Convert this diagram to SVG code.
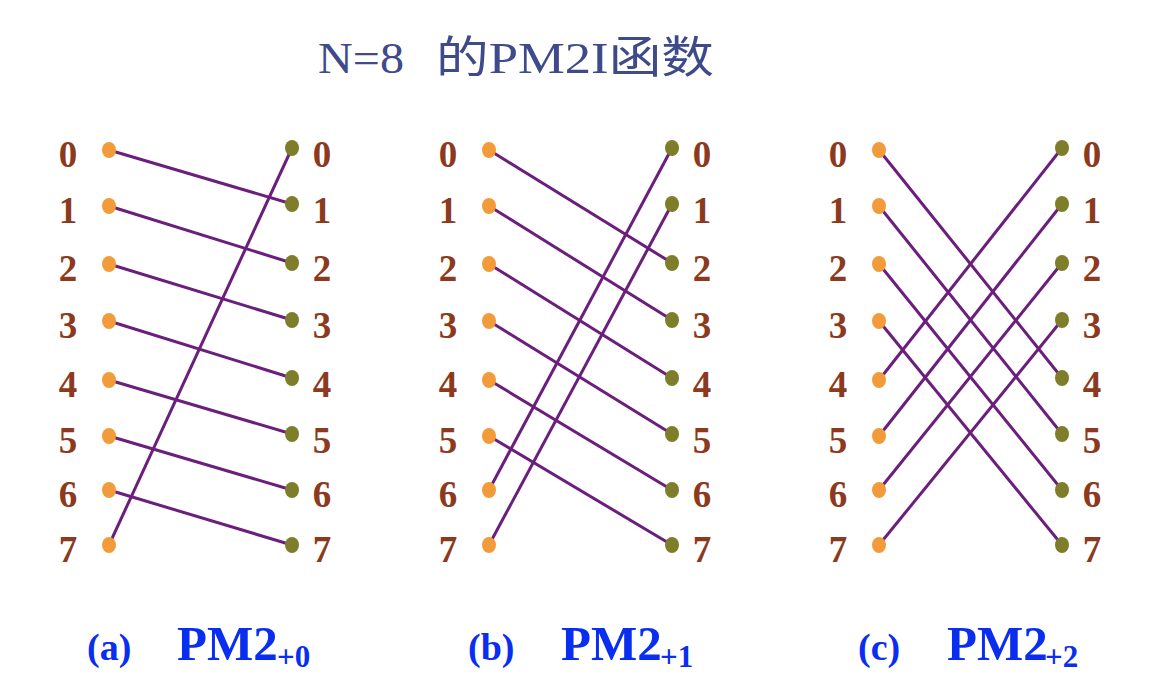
<svg xmlns="http://www.w3.org/2000/svg" width="1168" height="692" viewBox="0 0 1168 692">
<style>
.title{font-family:"Liberation Serif","Noto Sans CJK SC",serif;font-size:44px;fill:#3F4A8A}
.num{font-family:"Liberation Serif",serif;font-weight:bold;font-size:37px;fill:#8B3A1E;text-anchor:middle}
.cap{font-family:"Liberation Serif",serif;font-weight:bold;fill:#0A2EF0}
.c1{font-size:38px}.c2{font-size:49px}.c3{font-size:31px}
.ln{stroke:#6B1E7C;stroke-width:3;fill:none}
.src{fill:#F29B3A}.dst{fill:#7E7E2A}
</style>
<defs>
<ellipse id="dl" rx="7" ry="8" class="src"/>
<ellipse id="dr" rx="7" ry="8" class="dst"/>
</defs>
<g id="title">
<text class="title" x="318" y="73" textLength="86" lengthAdjust="spacingAndGlyphs">N=8</text>
<text class="title" x="436" y="73" textLength="278" lengthAdjust="spacingAndGlyphs">的PM2I函数</text>
</g>
<g id="connectors">
<line class="ln" x1="109" y1="150" x2="292" y2="204"/>
<line class="ln" x1="109" y1="206" x2="292" y2="263"/>
<line class="ln" x1="109" y1="264" x2="292" y2="320"/>
<line class="ln" x1="109" y1="321" x2="292" y2="378"/>
<line class="ln" x1="109" y1="380" x2="292" y2="434"/>
<line class="ln" x1="109" y1="436" x2="292" y2="490"/>
<line class="ln" x1="109" y1="490" x2="292" y2="545"/>
<line class="ln" x1="109" y1="545" x2="292" y2="148"/>
<line class="ln" x1="489" y1="150" x2="672" y2="263"/>
<line class="ln" x1="489" y1="206" x2="672" y2="320"/>
<line class="ln" x1="489" y1="264" x2="672" y2="378"/>
<line class="ln" x1="489" y1="321" x2="672" y2="434"/>
<line class="ln" x1="489" y1="380" x2="672" y2="490"/>
<line class="ln" x1="489" y1="436" x2="672" y2="545"/>
<line class="ln" x1="489" y1="490" x2="672" y2="148"/>
<line class="ln" x1="489" y1="545" x2="672" y2="204"/>
<line class="ln" x1="879" y1="150" x2="1062" y2="378"/>
<line class="ln" x1="879" y1="206" x2="1062" y2="434"/>
<line class="ln" x1="879" y1="264" x2="1062" y2="490"/>
<line class="ln" x1="879" y1="321" x2="1062" y2="545"/>
<line class="ln" x1="879" y1="380" x2="1062" y2="148"/>
<line class="ln" x1="879" y1="436" x2="1062" y2="204"/>
<line class="ln" x1="879" y1="490" x2="1062" y2="263"/>
<line class="ln" x1="879" y1="545" x2="1062" y2="320"/>
</g>
<g id="panel-a">
<g class="num">
<text x="68" y="167">0</text><text x="68" y="223">1</text><text x="68" y="281">2</text><text x="68" y="338">3</text>
<text x="68" y="397">4</text><text x="68" y="453">5</text><text x="68" y="507">6</text><text x="68" y="562">7</text>
<text x="322" y="167">0</text><text x="322" y="223">1</text><text x="322" y="281">2</text><text x="322" y="338">3</text>
<text x="322" y="397">4</text><text x="322" y="453">5</text><text x="322" y="507">6</text><text x="322" y="562">7</text>
</g>
<use href="#dl" x="109" y="150"/><use href="#dl" x="109" y="206"/><use href="#dl" x="109" y="264"/><use href="#dl" x="109" y="321"/>
<use href="#dl" x="109" y="380"/><use href="#dl" x="109" y="436"/><use href="#dl" x="109" y="490"/><use href="#dl" x="109" y="545"/>
<use href="#dr" x="292" y="148"/><use href="#dr" x="292" y="204"/><use href="#dr" x="292" y="263"/><use href="#dr" x="292" y="320"/>
<use href="#dr" x="292" y="378"/><use href="#dr" x="292" y="434"/><use href="#dr" x="292" y="490"/><use href="#dr" x="292" y="545"/>
<text class="cap c1" x="87" y="660">(a)</text>
<text class="cap c2" x="177" y="660">PM2</text>
<text class="cap c3" x="277" y="667">+0</text>
</g>
<g id="panel-b">
<g class="num">
<text x="448" y="167">0</text><text x="448" y="223">1</text><text x="448" y="281">2</text><text x="448" y="338">3</text>
<text x="448" y="397">4</text><text x="448" y="453">5</text><text x="448" y="507">6</text><text x="448" y="562">7</text>
<text x="702" y="167">0</text><text x="702" y="223">1</text><text x="702" y="281">2</text><text x="702" y="338">3</text>
<text x="702" y="397">4</text><text x="702" y="453">5</text><text x="702" y="507">6</text><text x="702" y="562">7</text>
</g>
<use href="#dl" x="489" y="150"/><use href="#dl" x="489" y="206"/><use href="#dl" x="489" y="264"/><use href="#dl" x="489" y="321"/>
<use href="#dl" x="489" y="380"/><use href="#dl" x="489" y="436"/><use href="#dl" x="489" y="490"/><use href="#dl" x="489" y="545"/>
<use href="#dr" x="672" y="148"/><use href="#dr" x="672" y="204"/><use href="#dr" x="672" y="263"/><use href="#dr" x="672" y="320"/>
<use href="#dr" x="672" y="378"/><use href="#dr" x="672" y="434"/><use href="#dr" x="672" y="490"/><use href="#dr" x="672" y="545"/>
<text class="cap c1" x="468" y="660">(b)</text>
<text class="cap c2" x="561" y="660">PM2</text>
<text class="cap c3" x="660" y="667">+1</text>
</g>
<g id="panel-c">
<g class="num">
<text x="838" y="167">0</text><text x="838" y="223">1</text><text x="838" y="281">2</text><text x="838" y="338">3</text>
<text x="838" y="397">4</text><text x="838" y="453">5</text><text x="838" y="507">6</text><text x="838" y="562">7</text>
<text x="1092" y="167">0</text><text x="1092" y="223">1</text><text x="1092" y="281">2</text><text x="1092" y="338">3</text>
<text x="1092" y="397">4</text><text x="1092" y="453">5</text><text x="1092" y="507">6</text><text x="1092" y="562">7</text>
</g>
<use href="#dl" x="879" y="150"/><use href="#dl" x="879" y="206"/><use href="#dl" x="879" y="264"/><use href="#dl" x="879" y="321"/>
<use href="#dl" x="879" y="380"/><use href="#dl" x="879" y="436"/><use href="#dl" x="879" y="490"/><use href="#dl" x="879" y="545"/>
<use href="#dr" x="1062" y="148"/><use href="#dr" x="1062" y="204"/><use href="#dr" x="1062" y="263"/><use href="#dr" x="1062" y="320"/>
<use href="#dr" x="1062" y="378"/><use href="#dr" x="1062" y="434"/><use href="#dr" x="1062" y="490"/><use href="#dr" x="1062" y="545"/>
<text class="cap c1" x="858" y="660">(c)</text>
<text class="cap c2" x="947" y="660">PM2</text>
<text class="cap c3" x="1045" y="667">+2</text>
</g>
</svg>
